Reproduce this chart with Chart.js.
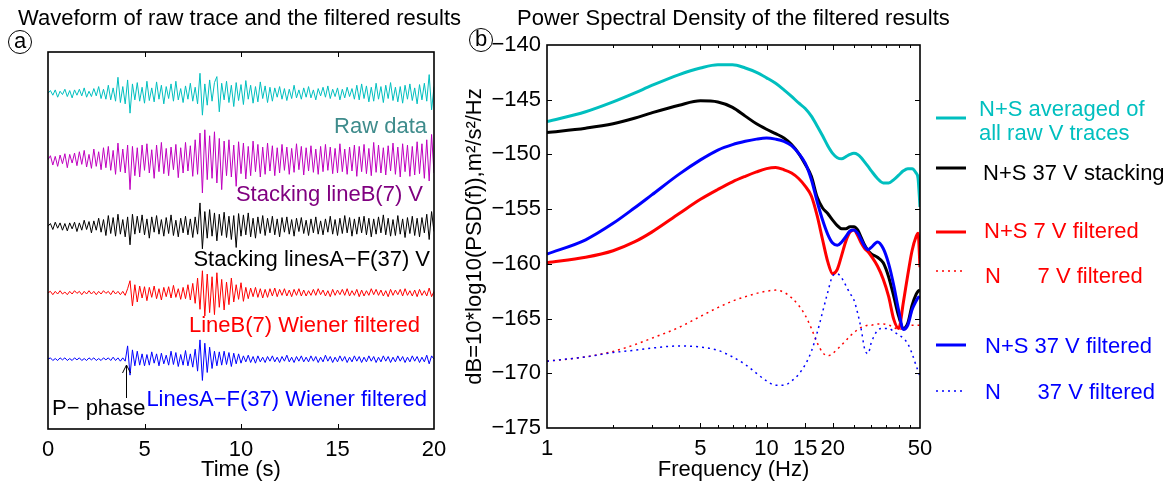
<!DOCTYPE html>
<html>
<head>
<meta charset="utf-8">
<script src="https://cdn.jsdelivr.net/npm/chart.js@4.4.1/dist/chart.umd.min.js"></script>
<style>
  body { margin: 0; background: #fff; width: 1174px; height: 488px; position: relative; overflow: hidden;
         font-family: 'Liberation Sans', Arial, sans-serif; }
  .title { position: absolute; font-size: 22px; line-height: 24px; white-space: nowrap; color: #000; z-index: 2; }
  .tag { position: absolute; width: 22px; height: 22px; border: 1px solid #000; border-radius: 50%;
         font-size: 22px; line-height: 20px; text-align: center; z-index: 3; }
  #wave { position: absolute; left: 0; top: 0; }
  #psd { position: absolute; left: 460px; top: 0; }
</style>
</head>
<body>
<div class="title" style="left:18px; top:6px;">Waveform of raw trace and the filtered results</div>
<div class="title" style="left:517px; top:6px;">Power Spectral Density of the filtered results</div>
<div class="tag" style="left:8px; top:30px;">a</div>
<div class="tag" style="left:469px; top:28px;">b</div>
<canvas id="wave" width="460" height="488"></canvas>
<canvas id="psd" width="714" height="488"></canvas>
<script>
// ---- panel (a): waveforms, amplitude in % of trace spacing, one sample every 0.125 s ----
const dt = 0.125;
const timeTicks = [0, 5, 10, 15, 20];

const rawTrace = [
  0, 4, -3, 5, -6, 3, -2, 6, -5, 4,
  -7, 5, -3, 6, -4, 8, -6, 3, -5, 7,
  -4, 10, -8, 6, -9, 12, -10, 8, -12, 24,
  -14, 10, -16, 20, -30, 14, -10, 16, -12, 9,
  -15, 18, -11, 8, -13, 17, -9, 12, -16, 10,
  -8, 14, -12, 18, -10, 7, -14, 11, -9, 15,
  -12, 9, -16, 30, -33, 14, -18, 20, -12, 16,
  25, -28, 15, -10, 18, -14, 12, -20, 16, -11,
  13, -17, 19, -9, 12, -15, 10, -13, 17, -8,
  11, -14, 9, -12, 8, -6, 10, -9, 7, -11,
  6, -8, 12, -7, 5, -9, 8, -6, 10, -7,
  5, -10, 7, -4, 9, -6, 11, -8, 6, -5,
  8, -10, 6, -7, 9, -5, 7, -9, 12, -10,
  14, -8, 11, -13, 9, -12, 15, -9, 10, -14,
  12, -8, 16, -11, 9, -13, 10, -15, 12, -9,
  14, -11, 8, -16, 13, -10, 15, -12, 28, -25,
  10
];
const stackBTrace = [
  0, 6, -8, 5, -10, 7, -6, 9, -12, 8,
  -5, 10, -9, 12, -7, 14, -11, 8, -13, 16,
  -10, 12, -15, 18, -12, 20, -16, 14, -22, 25,
  -18, 16, -20, 22, -45, 20, -24, 18, -26, 22,
  -16, 24, -20, 15, -28, 22, -18, 26, -21, 17,
  -24, 19, -15, 23, -27, 18, -20, 26, -17, 21,
  -25, 30, -22, 40, -50, 45, -30, 36, -28, 42,
  -35, 32, -45, 28, -24, 30, -26, 22, -40, 27,
  -21, 25, -29, 20, -24, 28, -18, 23, -26, 19,
  -22, 25, -17, 21, -24, 18, -20, 23, -16, 19,
  -22, 17, -19, 24, -15, 20, -23, 18, -17, 21,
  -19, 16, -22, 20, -18, 23, -16, 19, -21, 17,
  -20, 24, -18, 16, -22, 19, -17, 22, -25, 20,
  -18, 23, -21, 17, -24, 26, -19, 22, -20, 18,
  -23, 21, -17, 25, -22, 19, -26, 24, -18, 22,
  -25, 20, -23, 27, -21, 24, -28, 30, -32, 38,
  -20
];
const stackAllTrace = [
  0, 4, -5, 6, -3, 5, -6, 4, -7, 5,
  -4, 6, -8, 5, -6, 9, -5, 7, -10, 8,
  -6, 12, -9, 10, -14, 16, -11, 13, -15, 18,
  -12, 10, -16, 14, -28, 18, -12, 15, -10, 17,
  -13, 11, -18, 14, -9, 16, -12, 10, -15, 13,
  -11, 17, -14, 9, -16, 12, -10, 15, -13, 11,
  -17, 14, -12, 35, -34, 22, -18, 25, -15, 20,
  -22, 18, -14, 21, -17, 15, -20, 16, -32, 19,
  -15, 17, -13, 20, -16, 12, -18, 14, -11, 16,
  -14, 12, -10, 15, -13, 11, -16, 13, -9, 14,
  -12, 10, -15, 12, -8, 13, -11, 9, -14, 11,
  -10, 14, -12, 8, -13, 11, -9, 15, -12, 10,
  -14, 12, -11, 16, -10, 13, -15, 11, -12, 14,
  -10, 15, -13, 12, -16, 11, -12, 14, -10, 17,
  -13, 12, -15, 10, -14, 16, -12, 11, -17, 13,
  -11, 15, -14, 12, -16, 13, -10, 18, -20, 22,
  -8
];
const wienerBTrace = [
  0, 2, -3, 2, -2, 3, -2, 1, -3, 2,
  -2, 3, -1, 2, -3, 2, -2, 3, -2, 2,
  -3, 2, -2, 3, -1, 2, -3, 3, -2, 2,
  -3, 2, -4, 6, 18, -20, 12, -14, 10, -8,
  9, -12, 8, -7, 10, -9, 6, -11, 8, -6,
  9, -8, 11, -7, 6, -10, 8, -9, 12, -11,
  14, -16, 22, -25, 33, -35, 28, -30, 24, -33,
  30, -22, 20, -26, 16, -18, 22, -14, 12, -10,
  15, -13, 8, -9, 7, -6, 8, -7, 6, -8,
  5, -7, 6, -5, 7, -6, 5, -4, 6, -5,
  4, -6, 5, -4, 6, -5, 4, -5, 3, -4,
  5, -4, 6, -3, 4, -5, 3, -6, 5, -4,
  4, -3, 5, -4, 6, -5, 3, -4, 5, -6,
  4, -5, 3, -4, 6, -3, 5, -4, 4, -5,
  3, -6, 5, -4, 4, -3, 5, -5, 6, -4,
  3, -5, 4, -6, 5, -4, 3, -5, 7, -6,
  2
];
const wienerAllTrace = [
  0, 2, -2, 1, -2, 2, -1, 2, -2, 1,
  -2, 2, -1, 2, -2, 1, -2, 2, -1, 2,
  -2, 1, -2, 2, -1, 2, -2, 3, -2, 2,
  -3, 2, -3, 20, -24, 14, -10, 12, -9, 8,
  -10, 7, -9, 11, -6, 8, -10, 9, -7, 6,
  -9, 12, -8, 10, -11, 7, -9, 13, -10, 8,
  -12, 15, -18, 29, -32, 24, -20, 18, -14, 12,
  -10, 11, -9, 12, -8, 10, -11, 9, -7, 8,
  -6, 5, -4, 6, -5, 4, -6, 5, -4, 3,
  -5, 4, -3, 5, -4, 3, -5, 4, -3, 6,
  -4, 3, -5, 4, -3, 5, -4, 3, -4, 5,
  -3, 4, -5, 3, -4, 6, -3, 4, -5, 3,
  -4, 5, -3, 4, -5, 3, -4, 5, -3, 4,
  -5, 3, -4, 5, -3, 4, -5, 3, -4, 5,
  -3, 4, -5, 3, -4, 5, -3, 4, -5, 3,
  -4, 5, -3, 4, -5, 3, -4, 6, -7, 5,
  0
];

const waveNames = ['Raw data', 'Stacking lineB(7) V', 'Stacking linesA\u2212F(37) V',
                   'LineB(7) Wiener filtered', 'LinesA\u2212F(37) Wiener filtered'];

// ---- panel (b): PSD in dB ----
const freq = [1, 1.5, 2, 2.5, 3, 4, 5, 6, 7, 8, 9, 10, 11, 12, 13, 14, 15, 16, 17, 18, 19, 20,
              21, 22, 23, 24, 25, 26, 27, 28, 29, 30, 32, 34, 36, 38, 40, 42, 44, 46, 48, 49, 50];
const freqTicks = [1, 5, 10, 15, 20, 50];
const psdRaw = [-147.0, -146.1, -145.2, -144.4, -143.7, -142.7, -142.1, -141.8, -141.8, -142.1, -142.5, -143.0,
  -143.5, -144.1, -144.7, -145.3, -145.8, -146.5, -147.4, -148.3, -149.2, -149.9,
  -150.3, -150.4, -150.2, -150.0, -149.9, -150.0, -150.3, -150.7, -151.1, -151.5,
  -152.2, -152.6, -152.6, -152.3, -151.9, -151.5, -151.3, -151.3, -151.7, -152.2, -154.8];
const psdStack37 = [-148.0, -147.6, -147.2, -146.7, -146.2, -145.5, -145.1, -145.2, -145.7, -146.5, -147.2, -147.7,
  -148.1, -148.5, -149.1, -149.9, -150.9, -152.0, -153.9, -154.9, -155.4, -156.0,
  -156.5, -156.8, -156.8, -156.6, -156.6, -156.9, -157.6, -158.3, -158.8, -159.1,
  -159.4, -159.9, -161.2, -163.0, -164.8, -165.9, -165.4, -163.8, -162.8, -162.5, -162.4];
const psdFilt7 = [-159.9, -159.4, -158.8, -158.0, -157.1, -155.4, -154.1, -153.2, -152.5, -152.0, -151.6, -151.3,
  -151.2, -151.4, -151.7, -152.2, -152.9, -153.8, -155.6, -157.8, -159.8, -160.9,
  -160.5, -159.2, -157.9, -157.1, -156.9, -157.4, -158.1, -158.6, -158.9, -159.3,
  -160.2, -161.4, -163.0, -165.1, -165.9, -163.5, -161.0, -158.8, -157.5, -157.2, -160.3];
const psdNoise7 = [-168.9, -168.5, -168.0, -167.4, -166.8, -165.8, -164.8, -164.0, -163.4, -163.0, -162.7, -162.5,
  -162.4, -162.6, -163.1, -163.8, -164.7, -165.9, -167.2, -168.1, -168.4, -168.2,
  -167.8, -167.4, -167.0, -166.6, -166.3, -166.0, -165.8, -165.7, -165.6, -165.6,
  -165.5, -165.5, -165.6, -165.8, -166.0, -165.9, -165.7, -165.6, -165.6, -165.6, -165.6];
const psdFilt37 = [-159.1, -157.8, -156.3, -154.9, -153.7, -151.8, -150.5, -149.6, -149.1, -148.8, -148.6, -148.5,
  -148.6, -148.8, -149.2, -149.9, -150.8, -152.3, -154.3, -156.0, -157.3, -158.1,
  -158.3, -158.0, -157.5, -157.0, -156.9, -157.2, -157.8, -158.4, -158.7, -158.5,
  -158.0, -158.6, -160.0, -162.0, -164.3, -166.0, -165.6, -164.2, -163.4, -163.1, -163.0];
const psdNoise37 = [-168.9, -168.5, -168.1, -167.9, -167.7, -167.5, -167.6, -167.9, -168.5, -169.2, -170.0, -170.7,
  -171.1, -171.1, -170.7, -170.1, -169.2, -168.0, -166.3, -164.4, -162.6, -161.1,
  -160.9, -161.3, -162.0, -162.7, -163.3, -164.5, -166.0, -167.8, -168.2, -167.2,
  -166.1, -165.9, -165.9, -166.2, -166.5, -166.8, -167.3, -168.2, -169.3, -169.8, -170.3];

const psdNames = [['N+S averaged of', 'all raw V traces'], ['N+S 37 V stacking'], ['N+S 7 V filtered'],
                  ['N      7 V filtered'], ['N+S 37 V filtered'], ['N      37 V filtered']];

// ---- shared look ----
const FONT = "'Liberation Sans', Arial, sans-serif";
Chart.defaults.font.family = FONT;
Chart.defaults.font.size = 22;
Chart.defaults.color = '#000';

// box frame with inward ticks (matlab style)
const framePlugin = {
  id: 'frame',
  afterDraw(chart, args, o) {
    const { ctx, chartArea: a, scales } = chart;
    ctx.save();
    ctx.strokeStyle = '#000';
    ctx.lineWidth = 1;
    ctx.beginPath();
    (o.xTicks || []).forEach(([v, len]) => {
      const x = Math.round(scales.x.getPixelForValue(v)) + 0.5;
      ctx.moveTo(x, a.bottom); ctx.lineTo(x, a.bottom - len);
      ctx.moveTo(x, a.top); ctx.lineTo(x, a.top + len);
    });
    (o.yTicks || []).forEach(([v, len]) => {
      const y = Math.round(scales.y.getPixelForValue(v)) + 0.5;
      ctx.moveTo(a.left, y); ctx.lineTo(a.left + len, y);
      ctx.moveTo(a.right, y); ctx.lineTo(a.right - len, y);
    });
    ctx.stroke();
    ctx.lineWidth = 1.6;
    ctx.strokeRect(a.left, a.top, a.right - a.left, a.bottom - a.top);
    ctx.restore();
  }
};

// text labels drawn on a chart canvas
const notesPlugin = {
  id: 'notes',
  afterDraw(chart, args, o) {
    const ctx = chart.ctx;
    ctx.save();
    ctx.font = '22px ' + FONT;
    ctx.textBaseline = 'alphabetic';
    (o.items || []).forEach(n => {
      ctx.fillStyle = n.color;
      ctx.textAlign = n.align;
      ctx.fillText(n.text, n.x, n.y);
    });
    if (o.arrow) {
      const x = Math.round(chart.scales.x.getPixelForValue(o.arrow.t)) + 0.5;
      ctx.strokeStyle = '#000';
      ctx.lineWidth = 1;
      ctx.beginPath();
      ctx.moveTo(x, o.arrow.y0); ctx.lineTo(x, o.arrow.y1);
      ctx.moveTo(x - 4, o.arrow.y1 + 8); ctx.lineTo(x, o.arrow.y1); ctx.lineTo(x + 4, o.arrow.y1 + 8);
      ctx.stroke();
    }
    ctx.restore();
  }
};

// legend to the right of the psd box
const sideLegend = {
  id: 'sideLegend',
  afterDraw(chart, args, o) {
    const ctx = chart.ctx;
    ctx.save();
    ctx.font = '22px ' + FONT;
    ctx.textBaseline = 'alphabetic';
    ctx.textAlign = 'left';
    o.rows.forEach((r, i) => {
      const ds = chart.data.datasets[i];
      ctx.strokeStyle = ds.borderColor;
      ctx.lineWidth = ds.borderWidth;
      ctx.setLineDash(ds.borderDash || []);
      ctx.beginPath();
      ctx.moveTo(o.lineX0, r.lineY); ctx.lineTo(o.lineX1, r.lineY);
      ctx.stroke();
      ctx.setLineDash([]);
      ctx.fillStyle = r.textColor;
      psdNames[i].forEach((t, k) => ctx.fillText(t, r.textX, r.textY + k * 24));
    });
    ctx.restore();
  }
};

// ---- chart (a) ----
const traceBase = [5, 4, 3, 2, 1];
const traceColors = ['#00bfbf', '#bf00bf', '#000000', '#ff0000', '#0000ff'];
const traces = [rawTrace, stackBTrace, stackAllTrace, wienerBTrace, wienerAllTrace];

new Chart(document.getElementById('wave'), {
  type: 'line',
  data: {
    datasets: traces.map((vals, k) => ({
      label: waveNames[k],
      data: vals.map((v, i) => ({ x: i * dt, y: traceBase[k] + v / 100 })),
      borderColor: traceColors[k],
      borderWidth: 1,
      pointRadius: 0,
      tension: 0
    }))
  },
  options: {
    responsive: false,
    animation: false,
    layout: { padding: { left: 48, right: 26, top: 52, bottom: 0 } },
    plugins: {
      legend: { display: false },
      tooltip: { enabled: false },
      frame: { xTicks: [[5, 5], [10, 5], [15, 5]] },
      notes: {
        items: [
          { text: waveNames[0], color: '#3f8c8c', x: 427, y: 133, align: 'right' },
          { text: waveNames[1], color: '#800080', x: 423, y: 201, align: 'right' },
          { text: waveNames[2], color: '#000000', x: 430, y: 266, align: 'right' },
          { text: waveNames[3], color: '#ff0000', x: 420, y: 332, align: 'right' },
          { text: waveNames[4], color: '#0000ff', x: 427, y: 406, align: 'right' },
          { text: 'P\u2212 phase', color: '#000000', x: 52, y: 415, align: 'left' }
        ],
        arrow: { t: 4.05, y0: 398, y1: 365 }
      }
    },
    scales: {
      x: {
        type: 'linear', min: 0, max: 20,
        afterBuildTicks: s => { s.ticks = timeTicks.map(v => ({ value: v })); },
        afterFit: s => { s.height = 59; },
        grid: { display: false, drawTicks: false },
        border: { display: false },
        ticks: { autoSkip: false, maxRotation: 0, padding: 8 },
        title: { display: true, text: 'Time (s)', padding: { top: 0, bottom: 5 } }
      },
      y: { display: false, min: -0.05, max: 5.62 }
    }
  },
  plugins: [framePlugin, notesPlugin]
});

// ---- chart (b) ----
const psdSeries = [
  { vals: psdRaw, color: '#00bfbf', dash: [], width: 3, order: 6 },
  { vals: psdStack37, color: '#000000', dash: [], width: 3, order: 5 },
  { vals: psdFilt7, color: '#ff0000', dash: [], width: 3, order: 4 },
  { vals: psdNoise7, color: '#ff0000', dash: [2, 4], width: 1.5, order: 3 },
  { vals: psdFilt37, color: '#0000ff', dash: [], width: 3, order: 1 },
  { vals: psdNoise37, color: '#0000ff', dash: [2, 4], width: 1.5, order: 2 }
];

new Chart(document.getElementById('psd'), {
  type: 'line',
  data: {
    datasets: psdSeries.map((s, k) => ({
      label: psdNames[k].join(' '),
      data: s.vals.map((v, i) => ({ x: freq[i], y: v })),
      borderColor: s.color,
      borderWidth: s.width,
      borderDash: s.dash,
      order: s.order,
      pointRadius: 0,
      cubicInterpolationMode: 'monotone'
    }))
  },
  options: {
    responsive: false,
    animation: false,
    layout: { padding: { left: 0, right: 254, top: 45, bottom: 0 } },
    plugins: {
      legend: { display: false },
      tooltip: { enabled: false },
      frame: {
        xTicks: [[2, 3], [3, 3], [4, 3], [5, 5], [6, 3], [7, 3], [8, 3], [9, 3], [10, 5],
                 [15, 5], [20, 5], [25, 3], [30, 3], [35, 3], [40, 3], [45, 3]],
        yTicks: [[-145, 5], [-150, 5], [-155, 5], [-160, 5], [-165, 5], [-170, 5]]
      },
      sideLegend: {
        lineX0: 476, lineX1: 506,
        rows: [
          { lineY: 118, textX: 519, textY: 116, textColor: '#00bfbf' },
          { lineY: 168, textX: 523, textY: 180, textColor: '#000000' },
          { lineY: 232, textX: 524, textY: 238, textColor: '#ff0000' },
          { lineY: 271, textX: 525, textY: 283, textColor: '#ff0000' },
          { lineY: 345, textX: 525, textY: 353, textColor: '#0000ff' },
          { lineY: 391, textX: 525, textY: 399, textColor: '#0000ff' }
        ]
      }
    },
    scales: {
      x: {
        type: 'logarithmic', min: 1, max: 50,
        afterBuildTicks: s => { s.ticks = freqTicks.map(v => ({ value: v })); },
        afterFit: s => { s.height = 60; },
        grid: { display: false, drawTicks: false },
        border: { display: false },
        ticks: { autoSkip: false, maxRotation: 0, padding: 8, callback: v => String(v) },
        title: { display: true, text: 'Frequency (Hz)', padding: { top: 0, bottom: 5 } }
      },
      y: {
        min: -175, max: -140,
        afterFit: s => { s.width = 87; },
        grid: { display: false, drawTicks: false },
        border: { display: false },
        ticks: { stepSize: 5, padding: 6, callback: v => '\u2212' + Math.abs(v) },
        title: { display: true, text: 'dB=10*log10(PSD(f)),m\u00b2/s\u00b2/Hz', padding: { top: 2, bottom: 0 } }
      }
    }
  },
  plugins: [framePlugin, sideLegend]
});
</script>
</body>
</html>
